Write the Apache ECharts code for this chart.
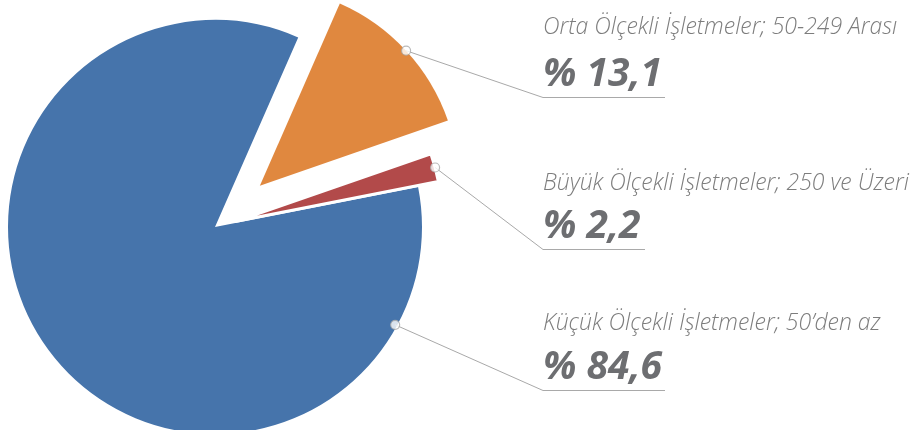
<!DOCTYPE html>
<html>
<head>
<meta charset="utf-8">
<script src="https://cdn.jsdelivr.net/npm/echarts@6/dist/echarts.min.js"></script>
<style>
  html, body { margin: 0; background: #fff; }
  #chart { width: 912px; height: 430px; }
</style>
</head>
<body>
<div id="chart"></div>
<script>
// data
const categories = [
  "Orta Ölçekli İşletmeler; 50-249 Arası",
  "Büyük Ölçekli İşletmeler; 250 ve Üzeri",
  "Küçük Ölçekli İşletmeler; 50’den az"
];
const shares = [13.1, 2.2, 84.6];

// styles / layout
const sliceColors = ["#e0883f", "#b24a4a", "#4674ab"];
const sliceBorder = [0, 3, 0];
const CX = 215, CY = 227, START = 66.3;
const sliceRadius = [199, 207, 207];
const sliceOffset = [61, 21, 0];
const anchorDeg = [null, null, 118.5]; // blue label hangs off the lower right edge
const anchorR = [null, null, 205];
const nameY = [27, 183, 323];
const pctY = [75, 227, 368];
const underlineY = [97, 249, 390];
const lineEnd = [665, 645, 665];
const TEXT_X = 543;

const total = shares.reduce((a, b) => a + b, 0);

// angle (degrees from 12 o'clock, clockwise) of each slice's anchor point
function anchorAngle(i) {
  if (anchorDeg[i] != null) return anchorDeg[i];
  let cum = 0;
  for (let k = 0; k < i; k++) cum += shares[k];
  return (90 - START) + 360 * (cum + shares[i] / 2) / total;
}
function anchorRadius(i) {
  if (anchorR[i] != null) return anchorR[i];
  return sliceRadius[i] + sliceOffset[i];
}
function anchorPoint(i) {
  const rad = anchorAngle(i) * Math.PI / 180;
  const r = anchorRadius(i);
  return [CX + r * Math.sin(rad), CY - r * Math.cos(rad)];
}

const textFont = "'Open Sans', 'Noto Sans', sans-serif";

function pieFor(k) {
  return {
    type: "pie",
    center: [CX, CY],
    radius: [0, sliceRadius[k]],
    startAngle: START,
    clockwise: true,
    selectedMode: sliceOffset[k] > 0 ? "single" : false,
    selectedOffset: sliceOffset[k],
    animation: false,
    silent: true,
    z: 2,
    emphasis: { disabled: true },
    label: { show: false },
    labelLine: { show: false },
    data: categories.map((name, i) => ({
      name: name,
      value: shares[i],
      selected: i === k && sliceOffset[k] > 0,
      itemStyle: {
        color: sliceColors[i],
        opacity: i === k ? 1 : 0,
        borderColor: "#fff",
        borderWidth: i === k ? sliceBorder[k] : 0
      }
    }))
  };
}

// texts and leader lines
const graphics = [];
categories.forEach((name, i) => {
  const a = anchorPoint(i);
  graphics.push({
    type: "polyline",
    z: 5,
    silent: true,
    shape: { points: [a, [TEXT_X, underlineY[i] + 0.5], [lineEnd[i], underlineY[i] + 0.5]] },
    style: { stroke: "#a9a9a9", lineWidth: 1, fill: null }
  });
  graphics.push({
    type: "text",
    z: 5,
    silent: true,
    x: TEXT_X,
    y: nameY[i],
    style: {
      text: name,
      fontFamily: textFont, fontStyle: "italic", fontWeight: 300, fontSize: 23,
      fill: "#7d7d7d", align: "left", verticalAlign: "middle"
    }
  });
  graphics.push({
    type: "text",
    z: 5,
    silent: true,
    x: TEXT_X,
    y: pctY[i],
    style: {
      text: "% " + String(shares[i]).replace(".", ","),
      fontFamily: textFont, fontStyle: "italic", fontWeight: "bold", fontSize: 39,
      fill: "#6d6e71", align: "left", verticalAlign: "middle"
    }
  });
});

const chart = echarts.init(document.getElementById("chart"));
chart.setOption({
  backgroundColor: "#fff",
  animation: false,
  polar: { center: [CX, CY], radius: 300 },
  angleAxis: { type: "value", min: 0, max: total, startAngle: START, clockwise: true, show: false },
  radiusAxis: { type: "value", min: 0, max: 300, show: false },
  graphic: graphics,
  series: [
    pieFor(2),
    pieFor(0),
    pieFor(1),
    {
      type: "scatter",
      coordinateSystem: "polar",
      symbol: "circle",
      symbolSize: 9,
      z: 10,
      silent: true,
      itemStyle: { color: "#fff", borderColor: "#a9a9a9", borderWidth: 1.2 },
      data: shares.map((v, i) => [anchorRadius(i), (anchorAngle(i) - (90 - START)) / 360 * total])
    }
  ]
});
</script>
</body>
</html>
